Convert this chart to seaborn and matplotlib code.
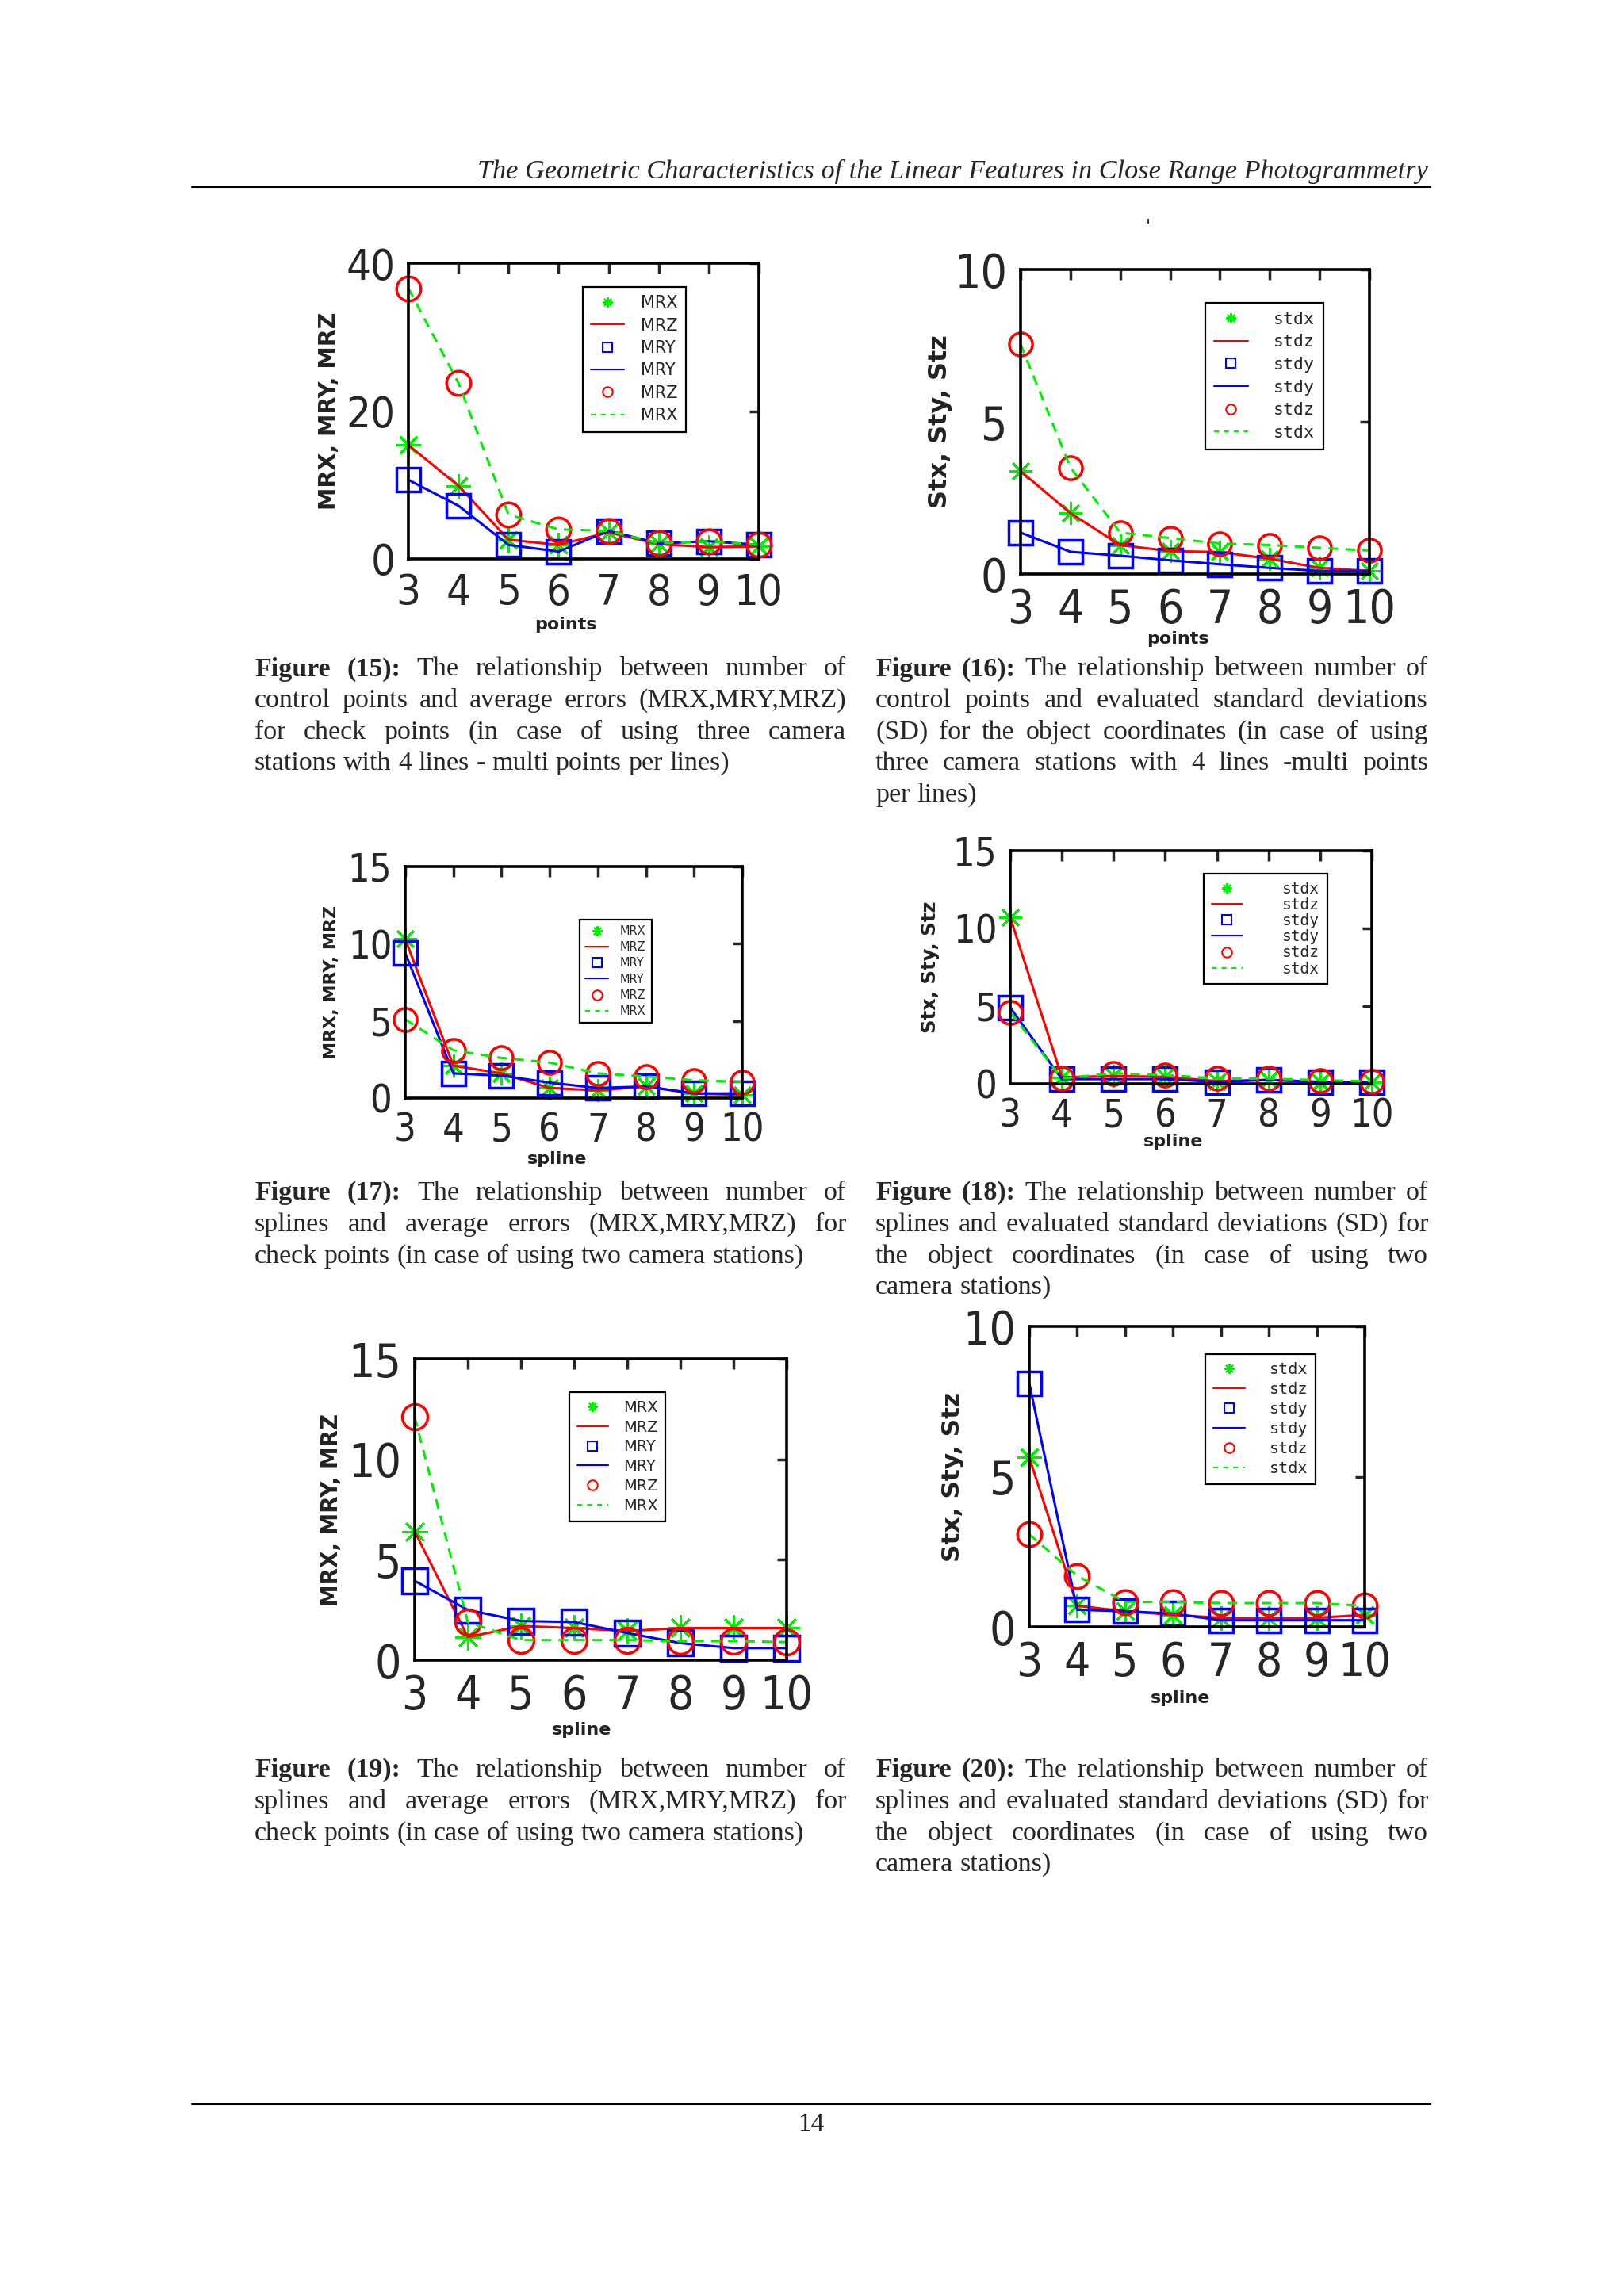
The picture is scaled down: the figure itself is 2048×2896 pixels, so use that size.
import matplotlib
matplotlib.use('Agg')
import matplotlib.pyplot as plt
import seaborn as sns
from matplotlib import font_manager
from matplotlib.lines import Line2D

sns.set_style('white')
plt.rcParams['font.family'] = ['DejaVu Sans']

W, H = 2048, 2896
GREEN = '#00ee00'

# x axis: number of points / splines
x_vals = [3, 4, 5, 6, 7, 8, 9, 10]

# series drawn as green stars joined by a red line
fig15_star = [15.4, 9.9, 2.6, 1.9, 3.6, 2.0, 1.6, 1.7]
fig16_star = [3.38, 2.0, 0.95, 0.75, 0.72, 0.5, 0.2, 0.1]
fig17_star = [10.3, 2.1, 1.6, 0.65, 0.5, 0.75, 0.3, 0.2]
fig18_star = [10.7, 0.42, 0.5, 0.45, 0.17, 0.25, 0.12, 0.12]
fig19_star = [6.4, 1.15, 1.7, 1.6, 1.45, 1.6, 1.6, 1.6]
fig20_star = [5.64, 0.7, 0.52, 0.4, 0.3, 0.3, 0.3, 0.4]

# series drawn as blue squares joined by a blue line
fig15_square = [10.7, 7.2, 1.9, 1.0, 3.8, 2.1, 2.4, 1.9]
fig16_square = [1.36, 0.73, 0.6, 0.45, 0.32, 0.2, 0.1, 0.1]
fig17_square = [9.4, 1.6, 1.45, 1.0, 0.65, 0.75, 0.3, 0.3]
fig18_square = [4.9, 0.3, 0.3, 0.3, 0.12, 0.25, 0.12, 0.12]
fig19_square = [3.95, 2.5, 1.95, 1.9, 1.35, 0.85, 0.6, 0.6]
fig20_square = [8.1, 0.57, 0.52, 0.44, 0.22, 0.22, 0.22, 0.22]

# series drawn as red circles joined by a green dashed line
fig15_circle = [36.6, 23.8, 6.0, 4.0, 3.8, 2.1, 2.4, 1.9]
fig16_circle = [7.55, 3.5, 1.36, 1.18, 1.0, 0.95, 0.86, 0.77]
fig17_circle = [5.1, 3.1, 2.6, 2.3, 1.6, 1.4, 1.15, 1.05]
fig18_circle = [4.6, 0.34, 0.68, 0.56, 0.34, 0.34, 0.22, 0.17]
fig19_circle = [12.1, 1.9, 1.0, 1.0, 1.0, 0.95, 0.95, 0.9]
fig20_circle = [3.08, 1.7, 0.83, 0.83, 0.79, 0.79, 0.79, 0.7]

mr_labels = ['MRX', 'MRZ', 'MRY', 'MRY', 'MRZ', 'MRX']
sd_labels = ['stdx', 'stdz', 'stdy', 'stdy', 'stdz', 'stdx']

header = 'The Geometric Characteristics of the Linear Features in Close Range Photogrammetry'

cap15 = ['Figure (15): The relationship between number of',
         'control points and average errors (MRX,MRY,MRZ)',
         'for check points (in case of using three camera',
         'stations with 4 lines - multi points per lines)']
cap16 = ['Figure (16): The relationship between number of',
         'control points and evaluated standard deviations',
         '(SD) for the object coordinates (in case of using',
         'three camera stations with 4 lines -multi points',
         'per lines)']
cap17 = ['Figure (17): The relationship between number of',
         'splines and average errors (MRX,MRY,MRZ) for',
         'check points (in case of using two camera stations)']
cap18 = ['Figure (18): The relationship between number of',
         'splines and evaluated standard deviations (SD) for',
         'the object coordinates (in case of using two',
         'camera stations)']
cap19 = ['Figure (19): The relationship between number of',
         'splines and average errors (MRX,MRY,MRZ) for',
         'check points (in case of using two camera stations)']
cap20 = ['Figure (20): The relationship between number of',
         'splines and evaluated standard deviations (SD) for',
         'the object coordinates (in case of using two',
         'camera stations)']

# narrow sans face for the tall, thin matlab tick digits
narrow = sorted({f.name for f in font_manager.fontManager.ttflist
                 if f.stretch == 'condensed' and f.style == 'normal'
                 and 'Mono' not in f.name and 'Serif' not in f.name})
tick_family = narrow[0] if narrow else 'DejaVu Sans'
for pref in ['DejaVu Sans', 'Liberation Sans Narrow', 'Noto Sans', 'Roboto', 'Open Sans']:
    if pref in narrow:
        tick_family = pref
        break
tick_scale = 1.0 if narrow else 0.78

fig = plt.figure(figsize=(W / 100, H / 100), dpi=100)
fig.patch.set_facecolor('white')
renderer = fig.canvas.get_renderer()


def fx(px):
    return px / W


def fy(py):
    return 1 - py / H


def panel(box, star, square, circle, ymax, yticks, ylabel, ylab_fs, xlabel, labels,
          tick_fs, ms, leg_xy, leg_fs, leg_family, leg_sp, leg_pad, xlab_off):
    l, t, r, b = box
    ax = fig.add_axes([fx(l), fy(b), fx(r - l), (b - t) / H])
    # matlab order: stars, red line, squares, blue line, circles, green dashes
    sns.lineplot(x=x_vals, y=star, ax=ax, color=GREEN, marker=(8, 2, 0), markersize=ms,
                 markeredgecolor=GREEN, markeredgewidth=2.2, linestyle='none', clip_on=False)
    sns.lineplot(x=x_vals, y=star, ax=ax, color='red', lw=2.2, clip_on=False)
    sns.lineplot(x=x_vals, y=square, ax=ax, color='blue', marker='s', markersize=ms,
                 markerfacecolor='none', markeredgecolor='blue', markeredgewidth=2.5,
                 linestyle='none', clip_on=False)
    sns.lineplot(x=x_vals, y=square, ax=ax, color='blue', lw=2.2, clip_on=False)
    sns.lineplot(x=x_vals, y=circle, ax=ax, color='red', marker='o', markersize=ms,
                 markerfacecolor='none', markeredgecolor='red', markeredgewidth=2.5,
                 linestyle='none', clip_on=False)
    sns.lineplot(x=x_vals, y=circle, ax=ax, color=GREEN, lw=2.2, ls=(0, (4, 3)), clip_on=False)

    ax.set_xlim(3, 10)
    ax.set_ylim(0, ymax)
    ax.set_xticks(x_vals)
    ax.set_yticks(yticks)
    ax.tick_params(direction='in', length=9, width=2.5, top=True, right=True,
                   labelsize=tick_fs * tick_scale, pad=12)
    for lab in ax.get_xticklabels() + ax.get_yticklabels():
        lab.set_family(tick_family)
        if narrow:
            lab.set_fontstretch('condensed')
    for s in ax.spines.values():
        s.set_visible(True)
        s.set_color('black')
        s.set_linewidth(2.6)

    ax.set_ylabel(ylabel, fontsize=ylab_fs, fontweight='bold', color='#222222')
    ax.yaxis.set_label_coords(-0.195, 0.5)
    ax.set_xlabel(xlabel, fontsize=16, fontweight='bold', color='#222222')
    ax.xaxis.set_label_coords(0.45, -(xlab_off - 7) / (b - t))

    lm = 9
    handles = [Line2D([], [], marker=(8, 2, 0), color=GREEN, ls='none', ms=lm, mew=1.5),
               Line2D([], [], color='red', lw=1.5),
               Line2D([], [], marker='s', mfc='none', mec='blue', ls='none', ms=lm, mew=1.5),
               Line2D([], [], color='blue', lw=1.5),
               Line2D([], [], marker='o', mfc='none', mec='red', ls='none', ms=lm, mew=1.5),
               Line2D([], [], color=GREEN, lw=1.5, ls=(0, (3, 3)))]
    leg = ax.legend(handles, labels, loc='upper left',
                    bbox_to_anchor=(fx(leg_xy[0]), fy(leg_xy[1])), bbox_transform=fig.transFigure,
                    frameon=True, fancybox=False, edgecolor='black', framealpha=1,
                    prop={'family': leg_family, 'size': leg_fs}, labelspacing=leg_sp,
                    handlelength=2.0, handletextpad=leg_pad, borderpad=0.5, borderaxespad=0)
    leg.get_frame().set_linewidth(1.6)
    return ax


panel((515, 332, 957, 705), fig15_star, fig15_square, fig15_circle, 40, [0, 20, 40],
      'MRX, MRY, MRZ', 20.5, 'points', mr_labels, 39, 22, (735, 362), 15, 'DejaVu Sans', 0.4, 1.0, 80)
panel((1287, 340, 1727, 724), fig16_star, fig16_square, fig16_circle, 10, [0, 5, 10],
      'Stx, Sty, Stz', 23, 'points', sd_labels, 42, 21, (1520, 382), 15.5, 'DejaVu Sans Mono', 0.4, 1.5, 79)
panel((511, 1093, 936, 1385), fig17_star, fig17_square, fig17_circle, 15, [0, 5, 10, 15],
      'MRX, MRY, MRZ', 16, 'spline', mr_labels, 35, 21, (731, 1160), 10.5, 'DejaVu Sans', 0.35, 1.0, 74)
panel((1274, 1073, 1730, 1367), fig18_star, fig18_square, fig18_circle, 15, [0, 5, 10, 15],
      'Stx, Sty, Stz', 17.5, 'spline', sd_labels, 35, 21, (1518, 1102), 14, 'DejaVu Sans Mono', 0.06, 2.6, 70)
panel((523, 1714, 992, 2094), fig19_star, fig19_square, fig19_circle, 15, [0, 5, 10, 15],
      'MRX, MRY, MRZ', 20, 'spline', mr_labels, 42, 23, (718, 1756), 14, 'DejaVu Sans', 0.3, 1.0, 85)
panel((1298, 1673, 1721, 2052), fig20_star, fig20_square, fig20_circle, 10, [0, 5, 10],
      'Stx, Sty, Stz', 22.5, 'spline', sd_labels, 42, 22, (1520, 1708), 14.5, 'DejaVu Sans Mono', 0.3, 1.5, 87)


def caption(lines, x0, x1, y0, size=24.5, step=39.7):
    space = size * 100 / 72 * 0.25
    for i, line in enumerate(lines):
        words = line.split(' ')
        texts = []
        for j, wd in enumerate(words):
            bold = i == 0 and j < 2
            texts.append(fig.text(0, fy(y0 + i * step), wd, fontsize=size,
                                  family='Liberation Serif', va='center',
                                  fontweight='bold' if bold else 'normal'))
        widths = [tx.get_window_extent(renderer=renderer).width for tx in texts]
        last = i == len(lines) - 1
        gap = space if last or len(words) == 1 else (x1 - x0 - sum(widths)) / (len(words) - 1)
        x = x0
        for tx, wdt in zip(texts, widths):
            tx.set_x(fx(x))
            x += wdt + gap


caption(cap15, 321, 1067, 844)
caption(cap16, 1104, 1801, 844)
caption(cap17, 321, 1067, 1505)
caption(cap18, 1104, 1801, 1505)
caption(cap19, 321, 1067, 2233)
caption(cap20, 1104, 1801, 2233)

fig.text(fx(1801), fy(216), header, ha='right', va='center', fontsize=24.7,
         fontstyle='italic', family='Liberation Serif')
fig.add_artist(Line2D([fx(242), fx(1804)], [fy(236), fy(236)], color='black', lw=1.5))
fig.add_artist(Line2D([fx(242), fx(1804)], [fy(2654), fy(2654)], color='black', lw=1.5))
fig.text(fx(1023), fy(2680), '14', ha='center', va='center', fontsize=24, family='Liberation Serif')
fig.text(fx(1448), fy(286), "'", ha='center', va='center', fontsize=16)

fig.savefig('out.png', dpi=100, facecolor='white')
